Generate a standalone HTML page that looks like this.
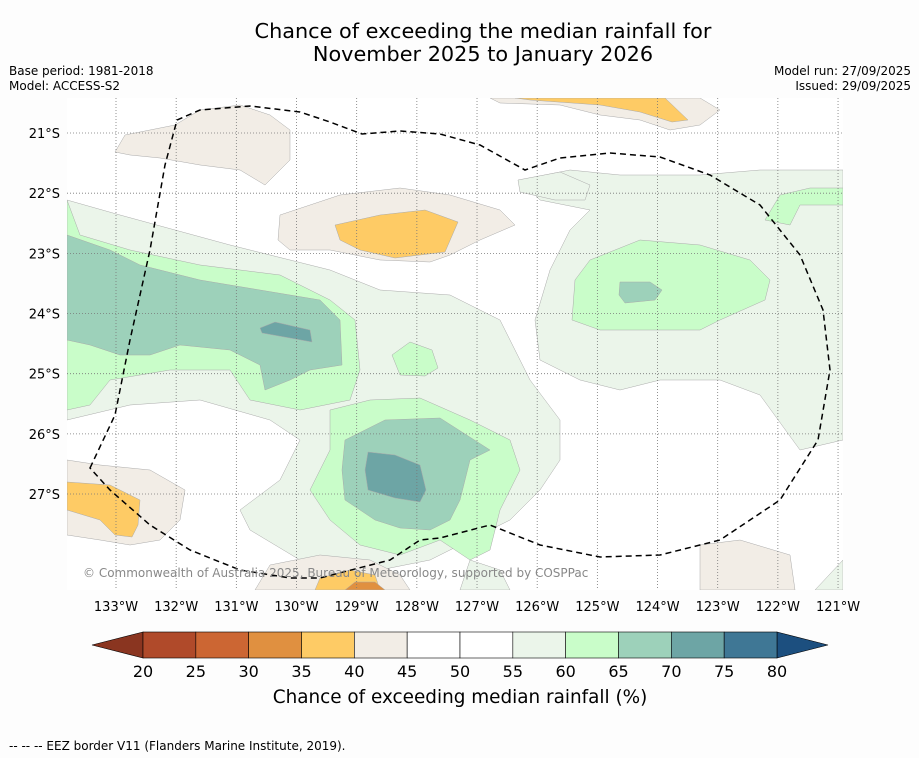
<!DOCTYPE html>
<html><head><meta charset="utf-8">
<style>
html,body{margin:0;padding:0;background:#fdfdfd;}
body{width:919px;height:758px;overflow:hidden;position:relative;font-family:"DejaVu Sans","Liberation Sans",sans-serif;}
svg{position:absolute;left:0;top:0;}
</style></head>
<body>
<svg id="chart" width="919" height="758" viewBox="0 0 919 758" font-family="DejaVu Sans, Liberation Sans, sans-serif">
<text x="483" y="38" font-size="20.8" text-anchor="middle" fill="#000">Chance of exceeding the median rainfall for</text>
<text x="483" y="61" font-size="20.8" text-anchor="middle" fill="#000">November 2025 to January 2026</text>
<text x="9" y="75" font-size="12">Base period: 1981-2018</text>
<text x="9" y="90" font-size="12">Model: ACCESS-S2</text>
<text x="911" y="75" font-size="12" text-anchor="end">Model run: 27/09/2025</text>
<text x="911" y="90" font-size="12" text-anchor="end">Issued: 29/09/2025</text>

<defs><clipPath id="mapclip"><rect x="67" y="98" width="776" height="492"/></clipPath></defs>
<g id="map" clip-path="url(#mapclip)" stroke="#aaa" stroke-width="0.5">
<rect x="67" y="98" width="776" height="492" fill="#fff" stroke="none"/>
<g fill="#ebf5ea">
<path d="M67,200 L120,215 L230,245 L330,270 L380,290 L450,295 L500,320 L530,380 L560,420 L560,460 L540,490 L510,520 L470,540 L430,560 L380,570 L300,560 L250,530 L240,510 L280,480 L300,440 L270,420 L200,400 L130,405 L67,420 Z"/>
<path d="M520,180 L570,170 L620,175 L700,175 L760,170 L843,170 L843,440 L800,450 L760,395 L720,380 L660,380 L620,390 L580,380 L540,360 L535,320 L550,270 L570,230 L590,210 L540,200 Z"/>
<path d="M518,180 L560,172 L590,185 L585,200 L555,200 L520,192 Z"/>
<path d="M815,590 L843,560 L843,590 Z"/>
<path d="M470,560 L500,570 L510,590 L460,590 Z"/>
</g>
<g fill="#c9fdc9">
<path d="M67,200 L80,235 L130,250 L200,265 L280,275 L330,300 L355,320 L360,370 L350,400 L300,410 L250,400 L230,370 L170,370 L110,380 L90,405 L67,410 Z"/>
<path d="M392,355 L410,342 L432,350 L438,368 L425,376 L400,375 Z"/>
<path d="M330,410 L370,400 L420,398 L470,420 L510,440 L520,470 L500,510 L490,550 L470,560 L440,540 L400,555 L360,545 L330,520 L310,490 L330,450 Z"/>
<path d="M590,260 L640,240 L700,245 L750,260 L770,280 L765,300 L720,320 L700,330 L650,330 L600,330 L572,320 L575,280 Z"/>
<path d="M765,220 L780,195 L810,188 L843,188 L843,205 L800,205 L790,225 Z"/>
</g>
<g fill="#9dd1ba">
<path d="M67,235 L110,250 L140,265 L200,280 L260,290 L320,300 L340,320 L342,365 L310,370 L290,380 L265,390 L260,365 L230,350 L180,345 L150,355 L120,355 L90,345 L67,340 Z"/>
<path d="M345,440 L385,420 L440,418 L490,450 L470,460 L460,500 L450,520 L430,530 L400,528 L375,520 L345,500 L342,470 Z"/>
<path d="M620,282 L650,282 L662,290 L655,300 L625,303 L619,295 Z"/>
</g>
<g fill="#6da5a5">
<path d="M260,328 L275,322 L310,330 L312,342 L290,338 L262,333 Z"/>
<path d="M368,452 L395,455 L420,465 L426,490 L420,502 L395,498 L368,490 L365,470 Z"/>
</g>
<g fill="#f2ede6">
<path d="M115,152 L125,135 L175,125 L200,110 L240,105 L270,115 L290,130 L290,160 L275,175 L265,185 L240,170 L200,165 L160,158 L130,155 Z"/>
<path d="M490,98 L700,98 L720,110 L700,125 L670,130 L640,120 L600,115 L560,105 L500,103 Z"/>
<path d="M280,215 L340,195 L400,188 L450,195 L500,210 L515,225 L480,240 L450,255 L430,262 L380,260 L330,250 L290,250 L278,240 Z"/>
<path d="M67,460 L100,465 L150,470 L185,490 L180,520 L160,540 L130,545 L100,540 L67,535 Z"/>
<path d="M255,590 L270,565 L320,555 L370,560 L400,575 L410,590 Z"/>
<path d="M700,545 L740,540 L790,555 L795,590 L700,590 Z"/>
</g>
<g fill="#fecb65">
<path d="M335,225 L380,215 L425,210 L458,222 L445,252 L395,258 L360,250 L340,240 Z"/>
<path d="M515,98 L665,98 L688,120 L672,122 L640,112 L600,105 L530,100 Z"/>
<path d="M67,482 L110,485 L140,500 L138,525 L132,537 L115,535 L100,520 L67,510 Z"/>
<path d="M315,590 L320,578 L350,570 L375,575 L380,590 Z"/>
</g>
<path fill="#e09040" d="M345,590 L355,582 L375,582 L385,590 Z"/>
<g id="grid" stroke="#777" stroke-width="0.8" stroke-dasharray="1,2" fill="none"></g>
<path fill="none" stroke="#000" stroke-width="1.5" stroke-dasharray="6,4"
 d="M90,468 L115,415 L130,340 L150,250 L165,165 L177,120 L200,110 L250,106 L300,112 L330,122 L362,134 L400,131 L440,134 L480,145 L525,170 L560,158 L610,153 L660,157 L710,175 L760,205 L800,255 L823,310 L830,370 L818,440 L780,500 L720,540 L660,555 L600,557 L540,545 L490,525 L440,538 L420,540 L390,560 L320,578 L290,578 L240,570 L190,550 L150,525 L110,490 Z"/>
</g>
<text x="83" y="577" font-size="12" fill="#888">© Commonwealth of Australia 2025, Bureau of Meteorology, supported by COSPPac</text>
<g id="xlabels" font-size="13" text-anchor="middle"></g>
<g id="ylabels" font-size="13" text-anchor="end"></g>
<g id="colorbar"></g>
<text x="460" y="703" font-size="18.4" text-anchor="middle">Chance of exceeding median rainfall (%)</text>
<text x="9" y="750" font-size="12">--  --  -- EEZ border V11 (Flanders Marine Institute, 2019).</text>
</svg>
<script>
const lonTicks = [133,132,131,130,129,128,127,126,125,124,123,122,121];
const latTicks = [21,22,23,24,25,26,27];
const binEdges = [20,25,30,35,40,45,50,55,60,65,70,75,80];
const binColors = ["#b04a2a","#cc6633","#e09040","#fecb65","#f2ede6","#ffffff","#ffffff","#ebf5ea","#c9fdc9","#9dd1ba","#6da5a5","#3f7795"];
const lowColor = "#8a3520", highColor = "#1c4f7f";
const NS = "http://www.w3.org/2000/svg";
function xLon(l){return 116 + (133 - l) * 60.17;}
function yLat(l){return 133 + (l - 21) * 60.17;}
function cX(v){return 143 + (v - 20) * (634/60);}
const grid = document.getElementById('grid');
const xl = document.getElementById('xlabels');
const yl = document.getElementById('ylabels');
lonTicks.forEach(l=>{
  const ln=document.createElementNS(NS,'line');
  
  
  ln.setAttribute('x1',xLon(l));ln.setAttribute('x2',xLon(l));ln.setAttribute('y1',98);ln.setAttribute('y2',590);
  grid.appendChild(ln);
  const t=document.createElementNS(NS,'text');
  
  
  t.setAttribute('x',xLon(l));t.setAttribute('y',611);t.textContent=l+'°W';
  xl.appendChild(t);
});
latTicks.forEach(l=>{
  const ln=document.createElementNS(NS,'line');
  
  
  ln.setAttribute('x1',67);ln.setAttribute('x2',843);ln.setAttribute('y1',yLat(l));ln.setAttribute('y2',yLat(l));
  grid.appendChild(ln);
  const t=document.createElementNS(NS,'text');
  
  
  t.setAttribute('x',60);t.setAttribute('y',yLat(l)+5);t.textContent=l+'°S';
  yl.appendChild(t);
});
const cb=document.getElementById('colorbar');
const y0=632,h=26;
const lt=document.createElementNS(NS,'polygon');


lt.setAttribute('points',`${cX(20)},${y0} 92,${y0+h/2} ${cX(20)},${y0+h}`);
lt.setAttribute('fill',lowColor);lt.setAttribute('stroke','#000');lt.setAttribute('stroke-width','0.6');
cb.appendChild(lt);
const rt=document.createElementNS(NS,'polygon');


rt.setAttribute('points',`${cX(80)},${y0} 828,${y0+h/2} ${cX(80)},${y0+h}`);
rt.setAttribute('fill',highColor);rt.setAttribute('stroke','#000');rt.setAttribute('stroke-width','0.6');
cb.appendChild(rt);
binColors.forEach((c,i)=>{
  const r=document.createElementNS(NS,'rect');
  
  
  r.setAttribute('x',cX(binEdges[i]));r.setAttribute('y',y0);
  r.setAttribute('width',cX(binEdges[i+1])-cX(binEdges[i]));r.setAttribute('height',h);
  r.setAttribute('fill',c);r.setAttribute('stroke','#000');r.setAttribute('stroke-width','0.6');
  cb.appendChild(r);
});
binEdges.forEach(v=>{
  const t=document.createElementNS(NS,'text');
  
  
  t.setAttribute('x',cX(v));t.setAttribute('y',677);t.setAttribute('font-size','16');t.setAttribute('text-anchor','middle');
  t.textContent=v;cb.appendChild(t);
});
</script>
</body></html>
